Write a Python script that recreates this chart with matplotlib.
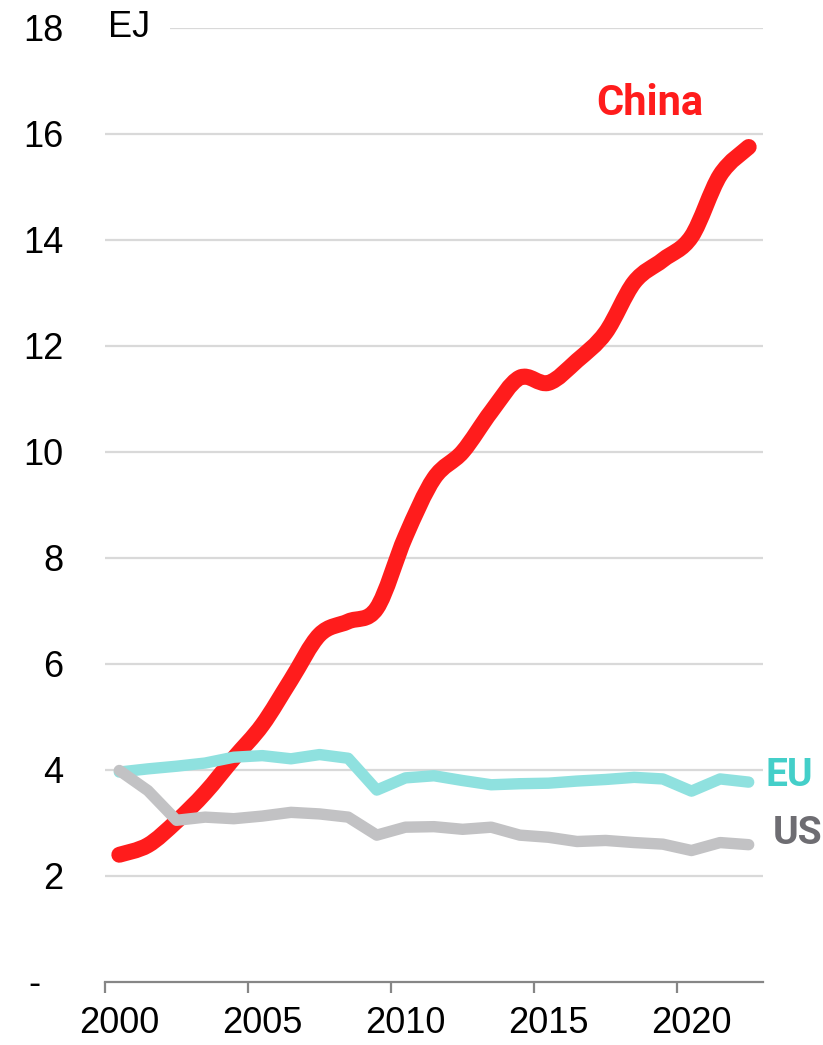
import numpy as np
import matplotlib
matplotlib.use("Agg")
import matplotlib.pyplot as plt
from matplotlib.path import Path
from matplotlib.patches import PathPatch

years = np.arange(2000, 2023)
china = [2.40, 2.58, 3.03, 3.57, 4.22, 4.85, 5.70, 6.55, 6.80, 7.05,
         8.40, 9.50, 10.00, 10.76, 11.40, 11.30, 11.72, 12.25, 13.20, 13.62,
         14.06, 15.22, 15.75]
eu = [3.96, 4.02, 4.07, 4.13, 4.24, 4.27, 4.21, 4.29, 4.22, 3.62,
      3.85, 3.89, 3.80, 3.72, 3.74, 3.75, 3.79, 3.82, 3.86, 3.83,
      3.60, 3.83, 3.77]
us = [3.99, 3.61, 3.05, 3.11, 3.08, 3.13, 3.20, 3.17, 3.11, 2.77,
      2.92, 2.93, 2.88, 2.92, 2.77, 2.73, 2.65, 2.67, 2.63, 2.60,
      2.48, 2.63, 2.59]
y_ticks = [0, 2, 4, 6, 8, 10, 12, 14, 16, 18]
y_labels = ["", "2", "4", "6", "8", "10", "12", "14", "16", "18"]
x_ticks = [2000, 2005, 2010, 2015, 2020]
x_labels = ["2000", "2005", "2010", "2015", "2020"]

RED = "#FF1C1C"
EU_LINE = "#8FE1DF"
EU_TEXT = "#44CFC9"
US_LINE = "#C2C2C4"
US_TEXT = "#6E6D72"
GRID = "#D9D9D9"
AXIS = "#868686"

fig = plt.figure(figsize=(8.23, 10.45), dpi=100)
ax = fig.add_axes([105 / 823, 1 - 982 / 1045, (763 - 105) / 823, (982 - 27.7) / 1045])
ax.set_xlim(2000, 2023)
ax.set_ylim(0, 18)

xs = years + 0.5


def smooth_path(x, y):
    x = np.asarray(x, float)
    y = np.asarray(y, float)
    n = len(x)
    verts = [(x[0], y[0])]
    codes = [Path.MOVETO]
    for i in range(n - 1):
        i0 = max(i - 1, 0)
        i3 = min(i + 2, n - 1)
        c1 = (x[i] + (x[i + 1] - x[i0]) / 6, y[i] + (y[i + 1] - y[i0]) / 6)
        c2 = (x[i + 1] - (x[i3] - x[i]) / 6, y[i + 1] - (y[i3] - y[i]) / 6)
        verts += [c1, c2, (x[i + 1], y[i + 1])]
        codes += [Path.CURVE4] * 3
    return Path(verts, codes)


patch = PathPatch(smooth_path(xs, china), fill=False, edgecolor=RED, lw=11.5,
                  capstyle="round", joinstyle="round", zorder=3,
                  transform=ax.transData)
ax.add_patch(patch)
ax.plot(xs, eu, color=EU_LINE, lw=8.2, solid_capstyle="round",
        solid_joinstyle="round", zorder=4)
ax.plot(xs, us, color=US_LINE, lw=8.2, solid_capstyle="round",
        solid_joinstyle="round", zorder=5)

# grid
ax.set_yticks(y_ticks)
ax.set_yticklabels(y_labels)
for yv in y_ticks[1:]:
    ax.axhline(yv, color=GRID, lw=1.6, zorder=1)

for s in ["left", "right", "top"]:
    ax.spines[s].set_visible(False)
ax.spines["bottom"].set_color(AXIS)
ax.spines["bottom"].set_linewidth(1.6)
ax.spines["bottom"].set_zorder(2)

ax.tick_params(axis="y", length=0, pad=30, labelsize=26)
for lab in ax.get_yticklabels():
    lab.set_fontfamily("Liberation Sans")

ax.set_xticks(x_ticks)
ax.set_xticklabels([""] * len(x_ticks))
ax.tick_params(axis="x", which="major", direction="out", length=8,
               width=1.6, color=AXIS)
ax.set_xticks([x + 0.5 for x in x_ticks], minor=True)
ax.set_xticklabels(x_labels, minor=True)
ax.tick_params(axis="x", which="minor", length=0, pad=17, labelsize=26)
for lab in ax.get_xticklabels(minor=True):
    lab.set_fontfamily("Liberation Sans")

# zero label "-"
ax.annotate("-", xy=(0, 0), xycoords=("axes fraction", "data"),
            xytext=(-64, -3), textcoords="offset pixels", ha="right",
            va="center", fontsize=26, family="Liberation Sans",
            annotation_clip=False)

# unit label
ax.annotate("EJ", xy=(2000, 18), xycoords="data", xytext=(3, 0),
            textcoords="offset pixels", ha="left", va="center",
            fontsize=26, family="Liberation Sans", zorder=6,
            bbox=dict(boxstyle="square,pad=0.55", facecolor="white",
                      edgecolor="none"),
            annotation_clip=False)

# series labels
ax.text(2019.05, 16.57, "China", color=RED, fontsize=30, fontweight="bold",
        family="Roboto", ha="center", va="center")
ax.text(2023.1, 3.9, "EU", color=EU_TEXT, fontsize=28, fontweight="bold",
        family="Roboto", ha="left", va="center", clip_on=False)
ax.text(2023.35, 2.8, "US", color=US_TEXT, fontsize=28, fontweight="bold",
        family="Roboto", ha="left", va="center", clip_on=False)

fig.savefig("out.png", dpi=100)
